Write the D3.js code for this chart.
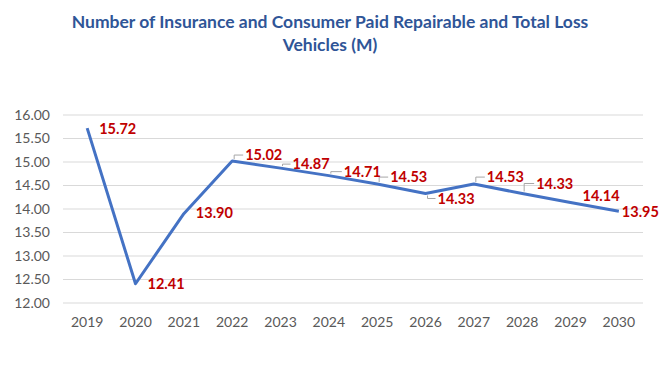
<!DOCTYPE html>
<html>
<head>
<meta charset="utf-8">
<script src="https://cdn.jsdelivr.net/npm/d3@7"></script>
<style>
  body { margin: 0; background: #fff; }
  svg { display: block; font-family: Lato, "Open Sans", sans-serif; }
</style>
</head>
<body>
<div id="canvas"></div>
<script>
const years = ["2019", "2020", "2021", "2022", "2023", "2024", "2025", "2026", "2027", "2028", "2029", "2030"];
const vehicles = [15.72, 12.41, 13.90, 15.02, 14.87, 14.71, 14.53, 14.33, 14.53, 14.33, 14.14, 13.95];
const yTicks = [12, 12.5, 13, 13.5, 14, 14.5, 15, 15.5, 16];
const titleLines = ["Number of Insurance and Consumer Paid Repairable and Total Loss", "Vehicles (M)"];

// label placement (pixels from the point) and whether a leader line is drawn
const labelPos = [
    { dx: 12, dy: 1, leader: false },
    { dx: 12, dy: 0, leader: false },
    { dx: 12, dy: -1, leader: false },
    { dx: 13, dy: -6, leader: true },
    { dx: 12, dy: -4, leader: true },
    { dx: 15, dy: -4, leader: true },
    { dx: 13, dy: -7, leader: true },
    { dx: 12, dy: 5, leader: true },
    { dx: 13, dy: -7, leader: true },
    { dx: 14, dy: -10, leader: true },
    { dx: 12, dy: -6, leader: false },
    { dx: 3, dy: 1, leader: false }
];

const W = 660, H = 370;
const margin = { top: 115, right: 17, bottom: 67, left: 63 };

const svg = d3.select("#canvas")
    .append("svg")
    .attr("width", W)
    .attr("height", H);

// title
svg.append("g")
    .selectAll("text")
    .data(titleLines)
    .enter()
    .append("text")
    .attr("x", 330)
    .attr("y", (d, i) => 28 + i * 23)
    .attr("text-anchor", "middle")
    .attr("fill", "#2F5597")
    .attr("font-weight", "bold")
    .attr("font-size", "17.5px")
    .text(d => d);

const x = d3.scaleBand()
    .domain(years)
    .range([margin.left, W - margin.right])
    .padding(0);

const y = d3.scaleLinear()
    .domain([12, 16])
    .range([H - margin.bottom, margin.top]);

// gridlines
svg.append("g")
    .selectAll("line")
    .data(yTicks)
    .enter()
    .append("line")
    .attr("x1", margin.left)
    .attr("x2", W - margin.right)
    .attr("y1", d => y(d))
    .attr("y2", d => y(d))
    .attr("stroke", "#D9D9D9")
    .attr("stroke-width", 1);

// Y axis
const yAxis = svg.append("g")
    .attr("transform", `translate(${margin.left},0)`)
    .call(d3.axisLeft(y).tickValues(yTicks).tickFormat(d3.format(".2f")).tickSize(0).tickPadding(13));
yAxis.select(".domain").remove();
yAxis.selectAll("text")
    .attr("fill", "#595959")
    .attr("font-size", "14px")
    .attr("font-family", "Lato, sans-serif");

// X axis
const xAxis = svg.append("g")
    .attr("transform", `translate(0,${H - margin.bottom})`)
    .call(d3.axisBottom(x).tickSize(0).tickPadding(14));
xAxis.select(".domain").remove();
xAxis.selectAll("text")
    .attr("fill", "#595959")
    .attr("font-size", "14px")
    .attr("font-family", "Lato, sans-serif");

const data = years.map((yr, i) => ({ year: yr, value: vehicles[i], pos: labelPos[i] }));
const cx = d => x(d.year) + x.bandwidth() / 2;

// line
const line = d3.line()
    .x(d => cx(d))
    .y(d => y(d.value));

svg.append("path")
    .datum(data)
    .attr("fill", "none")
    .attr("stroke", "#4472C4")
    .attr("stroke-width", 3)
    .attr("stroke-linejoin", "round")
    .attr("d", line);

// leader lines
svg.append("g")
    .selectAll("path")
    .data(data.filter(d => d.pos.leader))
    .enter()
    .append("path")
    .attr("fill", "none")
    .attr("stroke", "#A6A6A6")
    .attr("stroke-width", 1)
    .attr("d", d => {
        const px = cx(d) + 2, py = y(d.value);
        const ly = py + d.pos.dy;
        const sy = d.pos.dy < 0 ? py - 2 : py + 2;
        return `M${px},${sy}V${ly}H${cx(d) + d.pos.dx - 2}`;
    });

// labels
svg.append("g")
    .selectAll("text")
    .data(data)
    .enter()
    .append("text")
    .attr("x", d => cx(d) + d.pos.dx)
    .attr("y", d => y(d.value) + d.pos.dy)
    .attr("dy", "0.35em")
    .attr("fill", "#C00000")
    .attr("font-weight", "bold")
    .attr("font-size", "14.5px")
    .text(d => d3.format(".2f")(d.value));
</script>
</body>
</html>
